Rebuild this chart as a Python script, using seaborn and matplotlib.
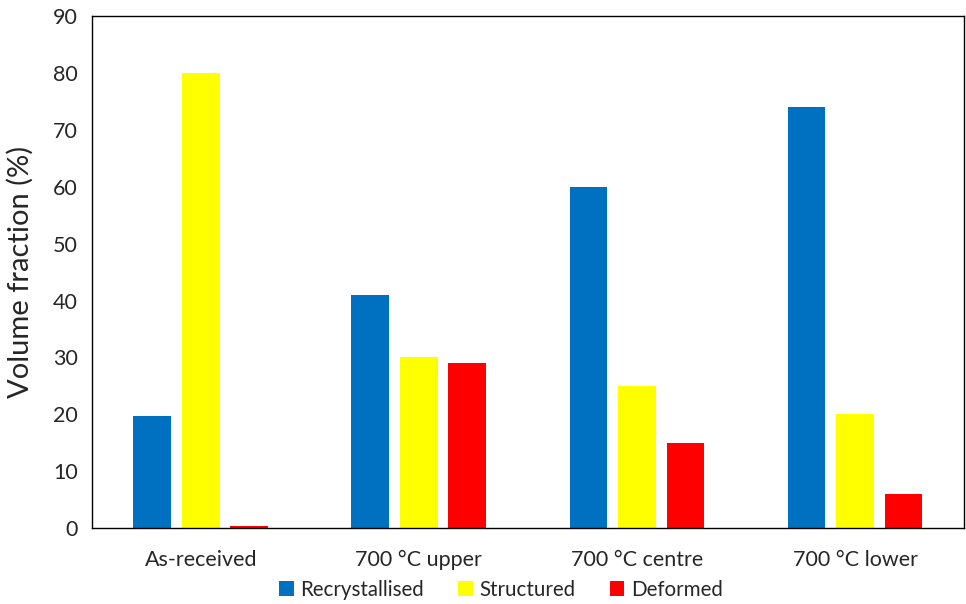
import pandas as pd
import matplotlib.pyplot as plt
import seaborn as sns

# Data
samples = ["As-received", "700 \u00b0C upper", "700 \u00b0C centre", "700 \u00b0C lower"]
recrystallised = [19.7, 41, 60, 74]
structured = [80, 30, 25, 20]
deformed = [0.3, 29, 15, 6]
phases = ["Recrystallised", "Structured", "Deformed"]
colors = ["#0070C0", "#FFFF00", "#FF0000"]

df = pd.DataFrame({
    "sample": samples * 3,
    "phase": [p for p in phases for _ in samples],
    "value": recrystallised + structured + deformed,
})

sns.set_style("white")
plt.rcParams["font.family"] = ["Lato", "DejaVu Sans"]

fig, ax = plt.subplots(figsize=(9.66, 6.04), dpi=100)
sns.barplot(data=df, x="sample", y="value", hue="phase", hue_order=phases,
            order=samples, palette=colors, width=0.667, gap=0.22,
            saturation=1, edgecolor="none", ax=ax)

ax.set_ylim(0, 90)
ax.set_xlim(-0.5, 3.5)
ax.set_yticks(range(0, 91, 10))
ax.set_xlabel("")
ax.set_ylabel("Volume fraction (%)", fontsize=21, labelpad=14)
ax.tick_params(axis="y", direction="in", length=6, width=1, labelsize=15.5, pad=10)
ax.tick_params(axis="x", which="major", length=0, labelsize=15.5, pad=16)
ax.set_xticks([0.5, 1.5, 2.5], minor=True)
ax.tick_params(axis="x", which="minor", direction="in", length=6, width=1)
for s in ax.spines.values():
    s.set_visible(True)
    s.set_color("black")
    s.set_linewidth(1)

ax.legend(loc="center", bbox_to_anchor=(0.469, -0.121), ncol=3, frameon=False,
          fontsize=14.8, handlelength=0.7, handleheight=0.7, handletextpad=0.3,
          columnspacing=1.7)

plt.subplots_adjust(left=0.095, right=0.998, top=0.973, bottom=0.126)
plt.savefig("out.png")
plt.close()
